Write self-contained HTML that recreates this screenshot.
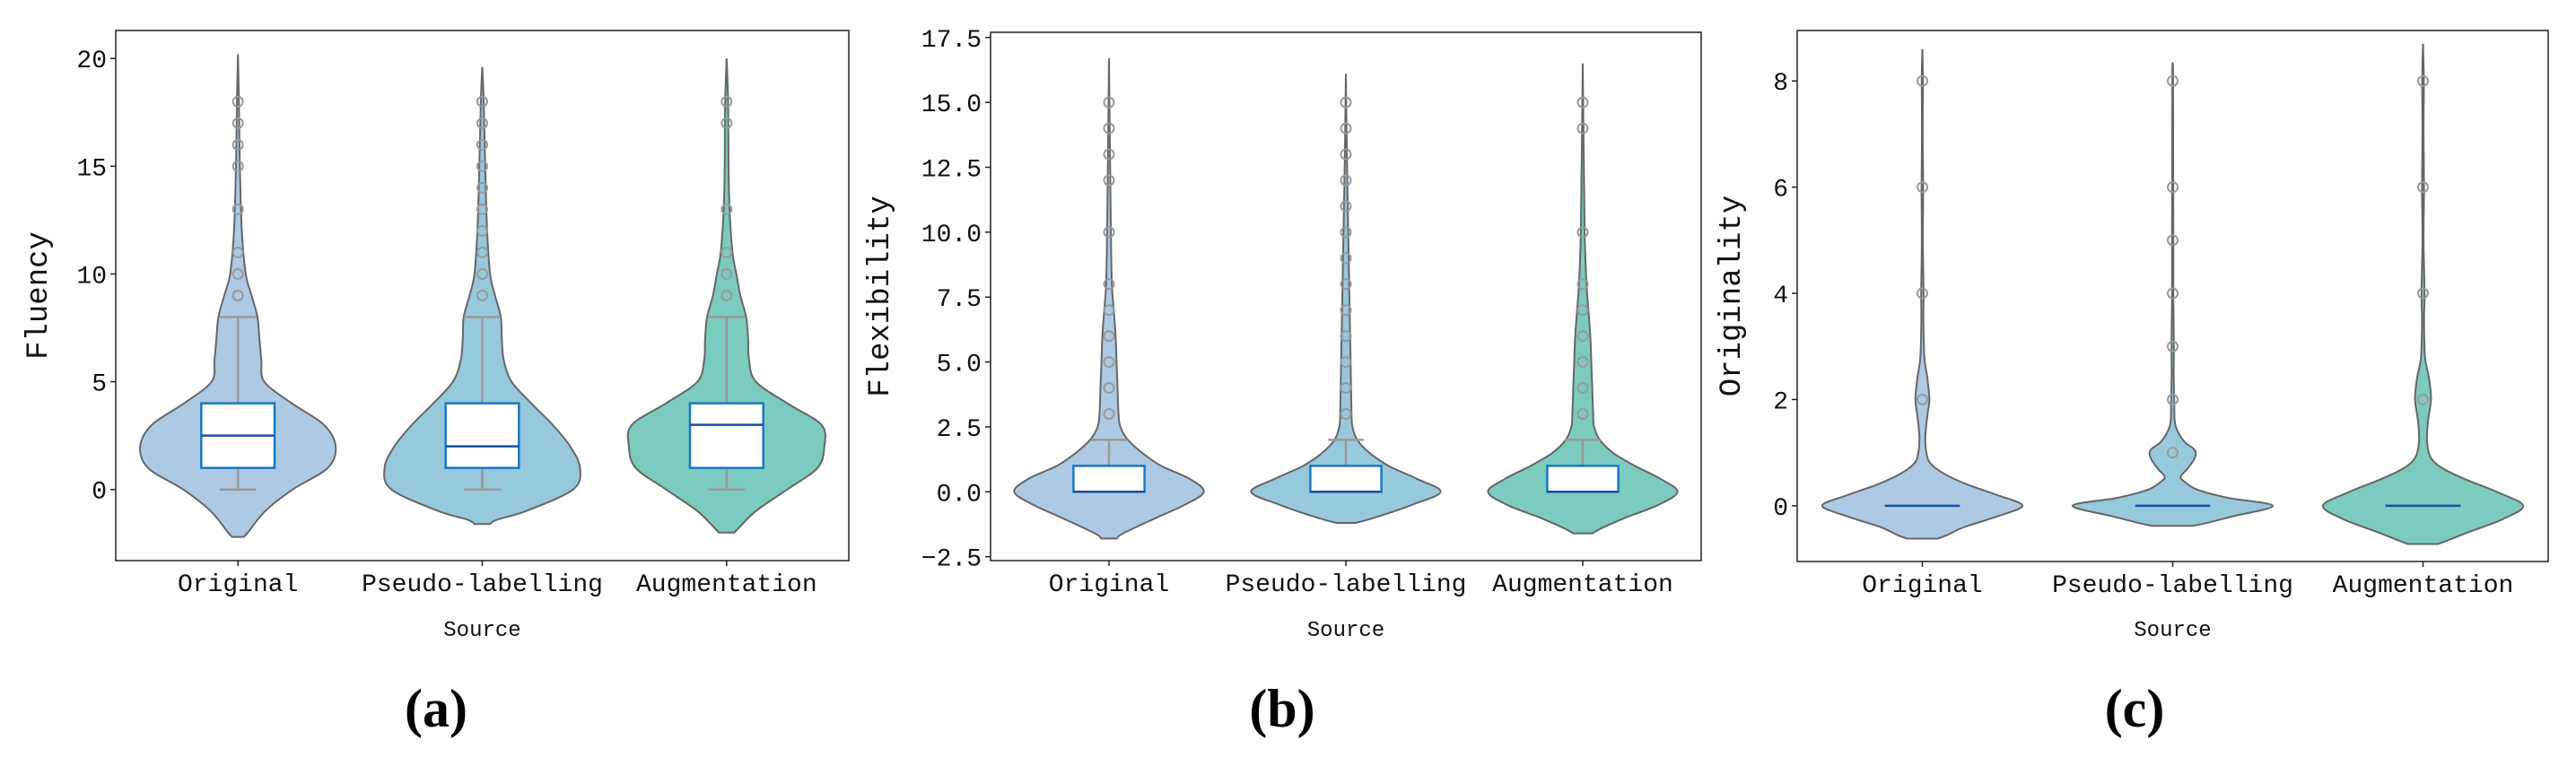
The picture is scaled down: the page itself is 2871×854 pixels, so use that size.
<!DOCTYPE html>
<html><head><meta charset="utf-8">
<style>
html,body{margin:0;padding:0;background:#fff;}
svg{display:block;}
.tk{font-family:"Liberation Mono",monospace;font-size:28px;fill:#111;}
.xl{font-family:"Liberation Mono",monospace;font-size:24px;fill:#111;}
.yt{font-family:"Liberation Mono",monospace;font-size:34px;fill:#111;}
.pl{font-family:"Liberation Serif",serif;font-size:60px;font-weight:bold;fill:#000;}
</style></head>
<body>
<svg id="fig" width="2871" height="854" viewBox="0 0 2871 854" xmlns="http://www.w3.org/2000/svg"></svg>
<script>
// ---- data ----
const categories = ["Original", "Pseudo-labelling", "Augmentation"];
const panelTitles = ["Fluency", "Flexibility", "Originality"];
const panelLetters = ["(a)", "(b)", "(c)"];
const ticksA = [0, 5, 10, 15, 20];
const ticksB = [-2.5, 0.0, 2.5, 5.0, 7.5, 10.0, 12.5, 15.0, 17.5];
const ticksC = [0, 2, 4, 6, 8];
const domainA = [-3.3, 21.3];
const domainB = [-2.65, 17.7];
const domainC = [-1.05, 8.95];

// violin density profiles (value, relative density)
const aOrigY = [-2.2,-2,-1,0,1,2,3,4,5,6,7,8,9,10,12,15,18,20.2];
const aOrigW = [0.06,0.1,0.28,0.56,0.92,1.0,0.88,0.55,0.27,0.24,0.22,0.2,0.14,0.08,0.04,0.02,0.01,0];
const aPseuY = [-1.6,-1.4,-1,0,1,2,3,4,5,6,7,8,9,10,12,15,18,19.6];
const aPseuW = [0.08,0.15,0.45,0.93,1.0,0.9,0.72,0.5,0.3,0.22,0.2,0.19,0.13,0.08,0.05,0.03,0.015,0];
const aAugY = [-2.0,-1.8,-1,0,1,2,3,4,5,6,7,8,9,10,11,13,15,18,20];
const aAugW = [0.08,0.12,0.3,0.62,0.93,1.0,0.97,0.62,0.3,0.23,0.22,0.2,0.14,0.1,0.06,0.03,0.02,0.015,0];

const bOrigY = [-1.8,-1.6,-1,-0.5,0,0.5,1,1.5,2,2.5,3,4,5,6,7,8,10,13,16.7];
const bOrigW = [0.08,0.15,0.5,0.8,1.0,0.85,0.55,0.35,0.2,0.12,0.1,0.09,0.08,0.07,0.05,0.03,0.02,0.01,0];
const bPseuY = [-1.2,-1.0,-0.5,0,0.5,1,1.5,2,2.5,3,5,7,9,11,13,16.1];
const bPseuW = [0.1,0.3,0.7,1.0,0.75,0.45,0.25,0.12,0.07,0.06,0.05,0.04,0.03,0.02,0.01,0];
const bAugY = [-1.6,-1.4,-1,-0.5,0,0.5,1,1.5,2,2.5,3,4,5,6,7,8,10,13,16.5];
const bAugW = [0.1,0.2,0.45,0.8,1.0,0.82,0.55,0.32,0.18,0.12,0.11,0.1,0.09,0.08,0.06,0.04,0.02,0.01,0];

const cOrigY = [-0.62,-0.55,-0.4,-0.2,0,0.2,0.4,0.6,0.8,1.0,1.3,1.7,2,2.4,2.8,3.5,4,5,6,7,8,8.6];
const cOrigW = [0.15,0.25,0.42,0.75,1.0,0.75,0.45,0.22,0.08,0.04,0.03,0.05,0.07,0.05,0.02,0.01,0.012,0.005,0.008,0.004,0.006,0];
const cPseuY = [-0.38,-0.32,-0.2,0,0.15,0.3,0.45,0.55,0.7,0.9,1.05,1.2,1.4,1.6,2,2.5,3,4,5,6,8,8.35];
const cPseuW = [0.2,0.35,0.6,1.0,0.55,0.25,0.12,0.08,0.15,0.22,0.22,0.12,0.05,0.02,0.015,0.01,0.012,0.006,0.006,0.005,0.004,0];
const cAugY = [-0.72,-0.65,-0.5,-0.25,0,0.25,0.5,0.7,0.9,1.2,1.6,2,2.4,2.8,3.5,4,5,6,7,8,8.7];
const cAugW = [0.15,0.25,0.45,0.8,1.0,0.75,0.42,0.2,0.08,0.04,0.05,0.08,0.06,0.02,0.01,0.015,0.005,0.01,0.005,0.008,0];

// box stats: [whiskerLow, q1, median, q3, whiskerHigh]
const aStats = [[0,1,2.5,4,8],[0,1,2,4,8],[0,1,3,4,8]];
const bStats = [[0,0,0,1,2],[0,0,0,1,2],[0,0,0,1,2]];
const cStats = [[0,0,0,0,0],[0,0,0,0,0],[0,0,0,0,0]];
// outliers
const aOut = [[9,10,11,13,15,16,17,18],[9,10,11,12,13,14,15,16,17,18],[9,10,11,13,17,18]];
const bOut = [[3,4,5,6,7,8,10,12,13,14,15],[3,4,5,6,7,8,9,10,11,12,13,14,15],[3,4,5,6,7,8,10,14,15]];
const cOut = [[2,4,6,8],[1,2,3,4,5,6,8],[2,4,6,8]];

// ---- layout ----
const fills = ["#aec9e4", "#98c8dc", "#7ccbbf"];
const panels = [
  {l:129,r:946,t:34,b:625,dom:domainA,ticks:ticksA,fmt:v=>String(v),vy:[aOrigY,aPseuY,aAugY],vw:[aOrigW,aPseuW,aAugW],st:aStats,out:aOut,titleX:44,letterX:486},
  {l:1104,r:1896,t:36,b:625,dom:domainB,ticks:ticksB,fmt:v=>v.toFixed(1),vy:[bOrigY,bPseuY,bAugY],vw:[bOrigW,bPseuW,bAugW],st:bStats,out:bOut,titleX:982,letterX:1429},
  {l:2003,r:2840,t:34,b:626,dom:domainC,ticks:ticksC,fmt:v=>String(v),vy:[cOrigY,cPseuY,cAugY],vw:[cOrigW,cPseuW,cAugW],st:cStats,out:cOut,titleX:1931,letterX:2379}
];
const NS = "http://www.w3.org/2000/svg";
const svg = document.getElementById("fig");
function mk(tag, attrs, parent){
  const e = document.createElementNS(NS, tag);
  for (const k in attrs) e.setAttribute(k, attrs[k]);
  (parent||svg).appendChild(e);
  return e;
}
function smooth(pts){
  let d = "M"+pts[0][0].toFixed(1)+","+pts[0][1].toFixed(1);
  for (let i=0;i<pts.length-1;i++){
    const p0=pts[Math.max(0,i-1)], p1=pts[i], p2=pts[i+1], p3=pts[Math.min(pts.length-1,i+2)];
    const c1=[p1[0]+(p2[0]-p0[0])/6, p1[1]+(p2[1]-p0[1])/6];
    const c2=[p2[0]-(p3[0]-p1[0])/6, p2[1]-(p3[1]-p1[1])/6];
    d += " C"+c1[0].toFixed(1)+","+c1[1].toFixed(1)+" "+c2[0].toFixed(1)+","+c2[1].toFixed(1)+" "+p2[0].toFixed(1)+","+p2[1].toFixed(1);
  }
  return d;
}

panels.forEach((P, pi) => {
  const g = mk("g", {});
  
  
  const ys = v => P.b - (v - P.dom[0]) / (P.dom[1] - P.dom[0]) * (P.b - P.t);
  const step = (P.r - P.l) / 3;
  const xs = i => P.l + step * (i + 0.5);
  const maxHalf = step * 0.4;
  const boxHalf = step * 0.15;

  categories.forEach((c, i) => {
    const cx = xs(i);
    const Y = P.vy[i], W = P.vw[i];
    const right = Y.map((y, k) => [cx + W[k]*maxHalf, ys(y)]);
    const left = Y.map((y, k) => [cx - W[k]*maxHalf, ys(y)]).reverse();
    let d = smooth(right);
    d += " L" + left[0][0].toFixed(1) + "," + left[0][1].toFixed(1);
    d += smooth(left).replace(/^M[^ ]+/, "");
    d += " Z";
    const v = mk("path", {d: d, fill: fills[i], stroke: "#666", "stroke-width": 2}, g);
    
    

    const s = P.st[i];
    const wl = mk("line", {x1: cx, x2: cx, y1: ys(s[3]), y2: ys(s[4]), stroke: "#999", "stroke-width": 2.5}, g);
    
    
    const wl2 = mk("line", {x1: cx, x2: cx, y1: ys(s[0]), y2: ys(s[1]), stroke: "#999", "stroke-width": 2.5}, g);
    
    
    if (s[4] !== s[3]) {
      const cap = mk("line", {x1: cx - boxHalf*0.5, x2: cx + boxHalf*0.5, y1: ys(s[4]), y2: ys(s[4]), stroke: "#999", "stroke-width": 2.5}, g);
      
      
    }
    if (s[0] !== s[1]) {
      const cap2 = mk("line", {x1: cx - boxHalf*0.5, x2: cx + boxHalf*0.5, y1: ys(s[0]), y2: ys(s[0]), stroke: "#999", "stroke-width": 2.5}, g);
      
      
    }
    if (s[3] !== s[1]) {
      const bx = mk("rect", {x: cx - boxHalf, y: ys(s[3]), width: boxHalf*2, height: ys(s[1]) - ys(s[3]), fill: "#fff", stroke: "#1a78c2", "stroke-width": 2.5}, g);
      
      
    }
    const md = mk("line", {x1: cx - boxHalf, x2: cx + boxHalf, y1: ys(s[2]), y2: ys(s[2]), stroke: "#1a4ea8", "stroke-width": 2.5}, g);
    
    

    P.out[i].forEach(o => {
      const ci = mk("circle", {cx: cx, cy: ys(o), r: 5.5, fill: "none", stroke: "#999", "stroke-width": 2}, g);
      
      
    });

    const xt = mk("line", {x1: cx, x2: cx, y1: P.b, y2: P.b + 6, stroke: "#222", "stroke-width": 1.5}, g);
    
    
    const xl = mk("text", {x: cx, y: P.b + 34, "text-anchor": "middle", class: "tk"}, g);
    xl.textContent = c;
    
    
  });

  P.ticks.forEach(t => {
    const y = ys(t);
    const tl = mk("line", {x1: P.l - 6, x2: P.l, y1: y, y2: y, stroke: "#222", "stroke-width": 1.5}, g);
    
    
    const tt = mk("text", {x: P.l - 10, y: y + 10, "text-anchor": "end", class: "tk"}, g);
    tt.textContent = P.fmt(t).replace("-", "\u2212");
    
    
  });

  const frame = mk("rect", {x: P.l, y: P.t, width: P.r - P.l, height: P.b - P.t, fill: "none", stroke: "#222", "stroke-width": 1.5}, g);
  
  

  const xt = mk("text", {x: (P.l + P.r)/2, y: 709, "text-anchor": "middle", class: "xl"}, g);
  xt.textContent = "Source";
  
  

  const cyT = (P.t + P.b) / 2;
  const yt = mk("text", {x: P.titleX, y: cyT, "text-anchor": "middle", class: "yt", transform: "rotate(-90 " + P.titleX + " " + cyT + ")", "dominant-baseline": "central"}, g);
  yt.textContent = panelTitles[pi];
  
  

  const lt = mk("text", {x: P.letterX, y: 810, "text-anchor": "middle", class: "pl"}, g);
  lt.textContent = panelLetters[pi];
  
  
});
</script>
</body></html>
